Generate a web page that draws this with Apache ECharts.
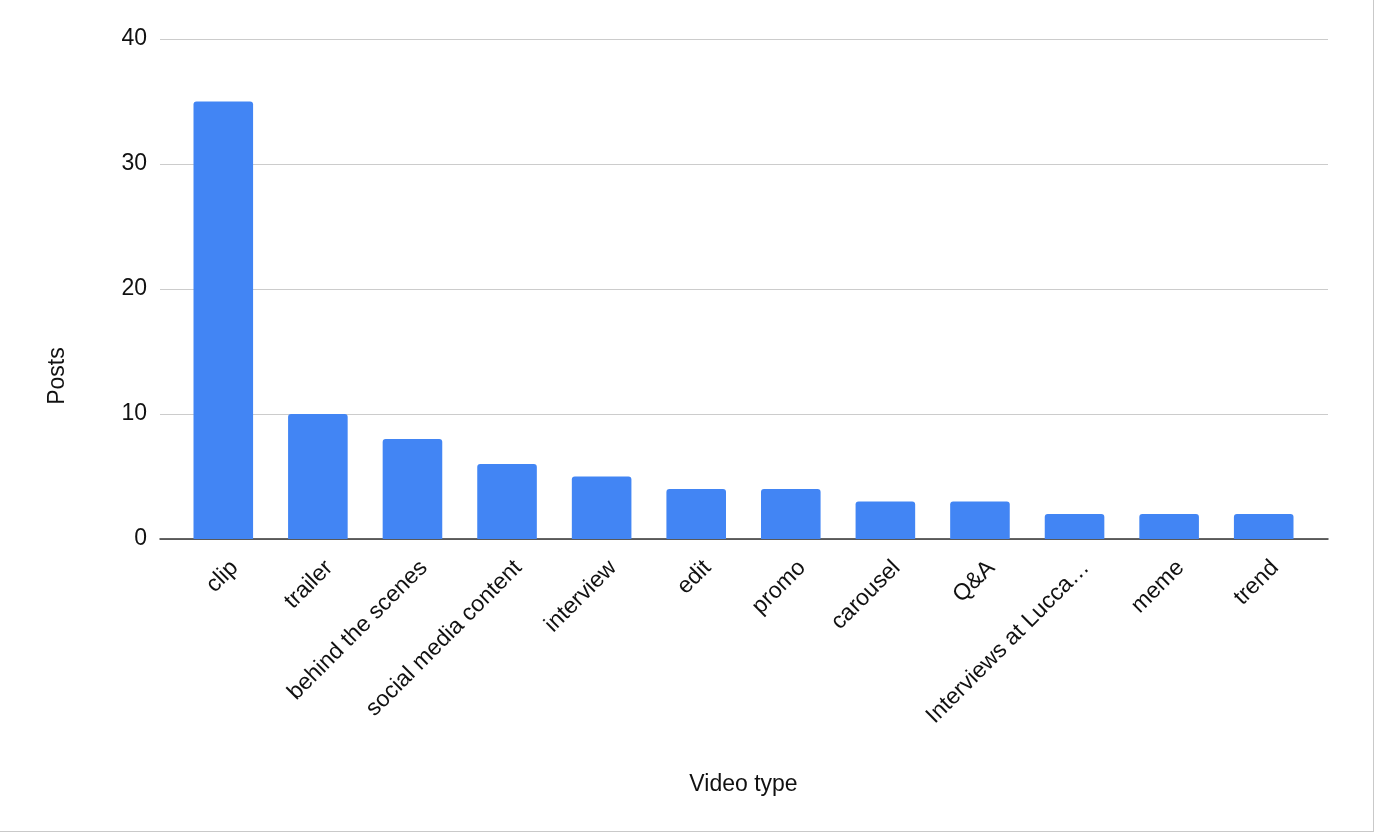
<!DOCTYPE html>
<html>
<head>
<meta charset="utf-8">
<title>Video type</title>
<script src="https://cdn.jsdelivr.net/npm/echarts@6/dist/echarts.min.js"></script>
<style>
	html, body { margin: 0; padding: 0; background: #fff; }
	#chart {
		width: 1373px;
		height: 831px;
		border-right: 1px solid #c9c9c9;
		border-bottom: 1px solid #c9c9c9;
	}
</style>
</head>
<body>
<div id="chart"></div>
<script>
var categories = ["clip", "trailer", "behind the scenes", "social media content", "interview", "edit",
	"promo", "carousel", "Q&A", "Interviews at Lucca…", "meme", "trend"];
var posts      = [35, 10, 8, 6, 5, 4, 4, 3, 3, 2, 2, 2];
var yTicks     = [0, 10, 20, 30, 40];

var xTitle = "Video type";
var yTitle = "Posts";

(function() {
	var chart = echarts.init(document.getElementById("chart"), null, {renderer: "canvas"});
	var font  = "Arial, 'Liberation Sans', sans-serif";
	var ink   = "#111";
	var yMin  = yTicks[0],
			yMax  = yTicks[yTicks.length - 1];

	// grid 0 = bars + category labels, grid 1 = wider frame for gridlines / baseline
	var option = {
		backgroundColor: "#fff",
		animation: false,
		grid: [
			{left: 176, right: 62, top: 39, bottom: 292},
			{left: 160, right: 45, top: 39, bottom: 292}
		],
		xAxis: [{
			type: "category",
			gridIndex: 0,
			data: categories,
			name: xTitle,
			nameLocation: "middle",
			nameGap: 234,
			nameTextStyle: {color: ink, fontSize: 23, fontFamily: font},
			axisTick: {show: false},
			axisLine: {show: false},
			axisLabel: {
				rotate: 45,
				interval: 0,
				margin: 14,
				align: "right",
				verticalAlign: "top",
				lineHeight: 32,
				color: ink,
				fontSize: 23,
				fontFamily: font
			}
		}, {
			type: "value",
			gridIndex: 1,
			min: 0,
			max: 1,
			axisLine: {show: true, onZero: false, lineStyle: {color: "#333", width: 1.5}},
			axisTick: {show: false},
			axisLabel: {show: false},
			splitLine: {show: false}
		}],
		yAxis: [{
			type: "value",
			gridIndex: 0,
			min: yMin,
			max: yMax,
			interval: 10,
			axisLine: {show: false},
			axisTick: {show: false},
			axisLabel: {show: false},
			splitLine: {show: false}
		}, {
			type: "value",
			gridIndex: 1,
			min: yMin,
			max: yMax,
			interval: 10,
			axisLine: {show: false},
			axisTick: {show: false},
			splitLine: {lineStyle: {color: "#cccccc", width: 1}},
			axisLabel: {
				margin: 13,
				color: ink,
				fontSize: 23,
				fontFamily: font
			}
		}],
		graphic: [{
			type: "text",
			x: 58,
			y: 376,
			rotation: Math.PI / 2,
			style: {
				text: yTitle,
				fill: ink,
				fontSize: 23,
				fontFamily: font,
				align: "center",
				verticalAlign: "middle"
			}
		}],
		series: [{
			type: "bar",
			xAxisIndex: 0,
			yAxisIndex: 0,
			data: posts,
			barCategoryGap: "37%",
			itemStyle: {color: "#4285f4", borderRadius: [3, 3, 0, 0]}
		}]
	};

	chart.setOption(option);
})();
</script>
</body>
</html>
